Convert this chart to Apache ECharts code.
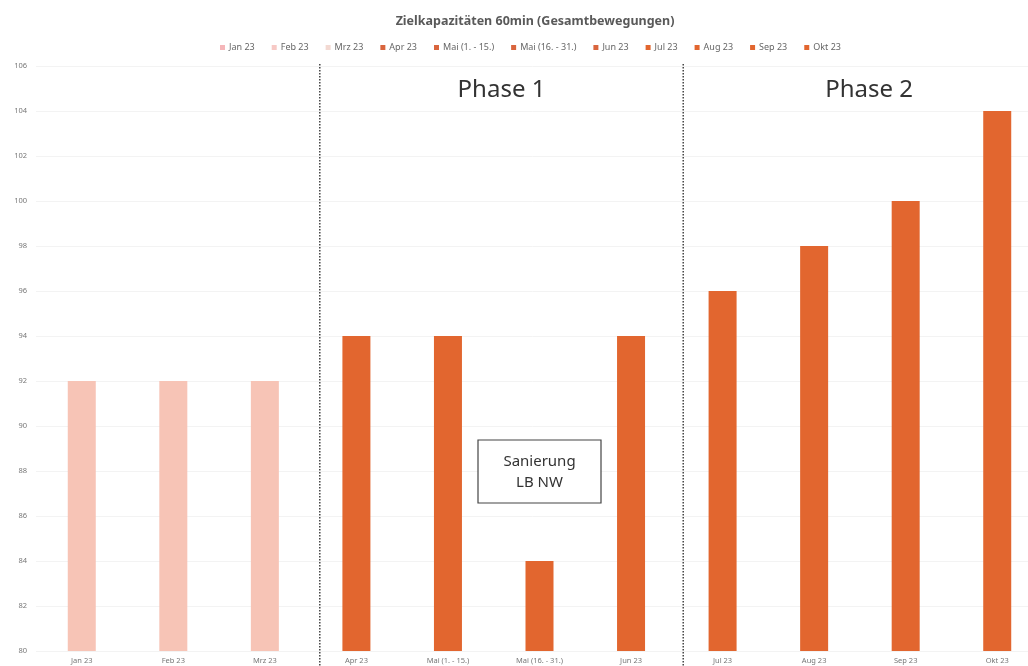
<!DOCTYPE html>
<html><head><meta charset="utf-8">
<script src="https://cdn.jsdelivr.net/npm/echarts@6/dist/echarts.min.js"></script>
<style>html,body{margin:0;padding:0;background:#fff}#c{width:1028px;height:666px}</style>
</head><body><div id="c"></div>
<script>
const categories = ['Jan 23','Feb 23','Mrz 23','Apr 23','Mai (1. - 15.)','Mai (16. - 31.)','Jun 23','Jul 23','Aug 23','Sep 23','Okt 23'];
const values = [92,92,92,94,94,84,94,96,98,100,104];
const barColors = ['#F7C4B6','#F7C4B6','#F7C4B6','#E2662F','#E2662F','#E2662F','#E2662F','#E2662F','#E2662F','#E2662F','#E2662F'];
const legendColors = ['#F5B6B9','#F7C9C5','#F3D9D2','#D9653D','#D9653D','#D9653D','#D9653D','#E2662F','#E2662F','#E2662F','#E2662F'];
const yTicks = {min:80, max:106, interval:2};

const FONT = 'Noto Sans';
const chart = echarts.init(document.getElementById('c'));
const series = categories.map((name, i) => ({
  name: name,
  type: 'bar',
  stack: 'all',
  barWidth: 28,
  itemStyle: {color: barColors[i]},
  data: categories.map((c, j) => j === i ? values[i] : null)
}));
chart.setOption({
  animation: false,
  color: legendColors,
  textStyle: {fontFamily: FONT},
  title: {
    text: 'Zielkapazitäten 60min (Gesamtbewegungen)',
    left: 'center', top: 10, left: 530, textAlign: 'center',
    textStyle: {fontSize: 12.5, fontWeight: 'bold', color: '#595959', fontFamily: FONT}
  },
  legend: {
    data: categories.map((n, i) => ({name: n, itemStyle: {color: legendColors[i]}})),
    left: 215, top: 38,
    icon: 'rect', itemWidth: 5, itemHeight: 5, itemGap: 17,
    textStyle: {fontSize: 9, color: '#666', fontFamily: FONT, padding: [0,0,0,-1]}
  },
  grid: {left: 36, right: -15, top: 66, bottom: 15, containLabel: false, outerBoundsMode: 'none'},
  xAxis: {
    type: 'category', data: categories,
    axisLine: {show: false}, axisTick: {show: false},
    axisLabel: {fontSize: 7.5, color: '#777', margin: 6, interval: 0}
  },
  yAxis: {
    type: 'value', min: yTicks.min, max: yTicks.max, interval: yTicks.interval,
    axisLine: {show: false}, axisTick: {show: false},
    axisLabel: {fontSize: 7.5, color: '#777', margin: 9},
    splitLine: {lineStyle: {color: '#f3f3f3'}}
  },
  series: series
});

function xAt(pos) {
  const i = Math.floor(pos), f = pos - i;
  const a = chart.convertToPixel({xAxisIndex: 0}, categories[i]);
  const b = chart.convertToPixel({xAxisIndex: 0}, categories[i + 1]);
  return a + (b - a) * f;
}
const x1 = xAt(2.6), x2 = xAt(6.57);
const p2 = xAt(8.6);
const dash = {stroke: '#444', lineWidth: 1.5, lineDash: [1.5, 1.5]};
chart.setOption({
  graphic: [
    {type: 'line', shape: {x1: x1, y1: 64, x2: x1, y2: 666}, style: dash, z: 100},
    {type: 'line', shape: {x1: x2, y1: 64, x2: x2, y2: 666}, style: dash, z: 100},
    {type: 'text', x: (x1 + x2) / 2, y: 90, style: {text: 'Phase 1', fontSize: 24, fill: '#333', fontFamily: FONT, align: 'center', verticalAlign: 'middle'}, z: 100},
    {type: 'text', x: p2, y: 90, style: {text: 'Phase 2', fontSize: 24, fill: '#333', fontFamily: FONT, align: 'center', verticalAlign: 'middle'}, z: 100},
    {type: 'rect', shape: {x: 478, y: 440, width: 123, height: 63}, style: {fill: '#fff', stroke: '#444', lineWidth: 1.2}, z: 100},
    {type: 'text', x: 539.5, y: 472, style: {text: 'Sanierung\nLB NW', fontSize: 15, lineHeight: 21, fill: '#333', fontFamily: FONT, align: 'center', verticalAlign: 'middle'}, z: 101}
  ]
});
</script></body></html>
